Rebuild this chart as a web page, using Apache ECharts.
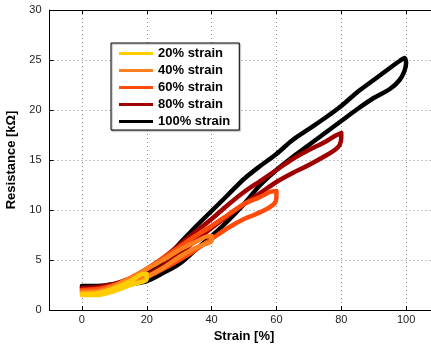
<!DOCTYPE html>
<html>
<head>
<meta charset="utf-8">
<script src="https://cdn.jsdelivr.net/npm/echarts@6/dist/echarts.min.js"></script>
<style>html,body{margin:0;padding:0;background:#fff}#c{width:431px;height:344px}</style>
</head>
<body>
<div id="c"></div>
<script>
// Data: [strain %, resistance kΩ] around each hysteresis loop
const seriesNames = ['20% strain', '40% strain', '60% strain', '80% strain', '100% strain'];
const seriesColors = ['#FFCC00', '#FF8020', '#FF4A0A', '#A00000', '#000000'];

const loop20 = [[0,1.6],[5,1.7],[10,2.2],[15,2.9],[19,3.6],[20,3.6],[20,3.1],[15,2.5],[10,1.9],[5,1.5],[0,1.5]];
const loop40 = [[0,1.8],[5,1.9],[10,2.4],[15,3.2],[20,4.1],[25,5.0],[30,6.0],[35,6.8],[38,7.3],[40,7.4],[40,6.9],[38,6.6],[35,6.2],[30,5.3],[25,4.2],[20,3.3],[15,2.6],[10,2.1],[5,1.8],[0,1.7]];
const loop60 = [[0,2.0],[5,2.1],[10,2.5],[15,3.2],[20,4.1],[25,5.2],[30,6.3],[35,7.4],[40,8.4],[45,9.5],[50,10.6],[55,11.3],[58,11.8],[60,11.9],[60,11.3],[59.5,10.7],[57,10.1],[53,9.5],[50,9.1],[45,8.2],[40,7.1],[35,6.0],[30,5.0],[25,4.1],[20,3.3],[15,2.7],[10,2.2],[5,1.9],[0,1.9]];
const loop80 = [[0,2.2],[5,2.3],[10,2.6],[15,3.2],[20,4.1],[25,5.2],[30,6.5],[35,7.8],[40,9.1],[45,10.5],[50,11.8],[55,12.9],[60,14.0],[65,15.1],[70,16.0],[75,16.8],[78,17.4],[80,17.7],[80,17.2],[79.5,16.5],[78,16.0],[75,15.4],[70,14.5],[65,13.7],[60,12.8],[55,11.7],[50,10.6],[45,9.4],[40,8.2],[35,6.9],[30,5.6],[25,4.4],[20,3.5],[15,2.8],[10,2.4],[5,2.1],[0,2.1]];
const loop100 = [[0,2.4],[5,2.4],[10,2.6],[15,3.0],[20,3.7],[25,4.9],[30,6.6],[35,8.3],[40,9.9],[45,11.5],[50,13.1],[55,14.4],[60,15.6],[65,17.0],[70,18.1],[75,19.2],[80,20.4],[85,21.8],[90,23.0],[95,24.2],[98,24.9],[99.5,25.2],[100,24.7],[99.5,23.9],[98,23.0],[95,22.1],[90,21.2],[85,20.1],[80,18.9],[75,17.7],[70,16.5],[65,15.3],[60,14.0],[55,12.5],[50,10.6],[45,8.9],[40,7.4],[35,6.0],[30,4.6],[25,3.7],[20,2.9],[15,2.6],[10,2.4],[5,2.3],[0,2.3]];

const loops = [loop20, loop40, loop60, loop80, loop100];
const yTickStep = 5;

const chart = echarts.init(document.getElementById('c'), null, {renderer: 'canvas'});
const font = 'Liberation Sans, Arial, sans-serif';

// draw 100% first so smaller loops lie on top
const series = [];
for (let i = loops.length - 1; i >= 0; i--) {
  series.push({
    name: seriesNames[i],
    type: 'line',
    data: loops[i],
    showSymbol: false,
    smooth: 0.3,
    lineStyle: {color: seriesColors[i], width: 4.5, join: 'round', cap: 'round'},
    itemStyle: {color: seriesColors[i]},
    emphasis: {disabled: true},
    animation: false
  });
}

const option = {
  animation: false,
  grid: {left: 49.5, right: -7.5, top: 10, bottom: 34, containLabel: false, outerBoundsMode: 'none'},
  legend: {
    data: seriesNames,
    orient: 'vertical',
    left: 111,
    top: 43,
    icon: 'rect',
    itemWidth: 34,
    itemHeight: 3,
    itemGap: 4,
    padding: [4, 9, 2, 8],
    backgroundColor: '#fff',
    borderColor: '#000',
    borderWidth: 1,
    shadowColor: 'rgba(0,0,0,0.35)',
    shadowOffsetX: 1,
    shadowOffsetY: 1,
    shadowBlur: 1,
    textStyle: {fontFamily: font, fontWeight: 'bold', fontSize: 13, color: '#000', padding: [0,0,0,0]},
    selectedMode: false
  },
  xAxis: [{
    type: 'value', min: -10, max: 110, splitNumber: 6, position: 'bottom',
    name: 'Strain [%]', nameLocation: 'middle', nameGap: 17,
    nameTextStyle: {fontFamily: font, fontWeight: 'bold', fontSize: 13, color: '#000'},
    axisLine: {show: true, onZero: false, lineStyle: {color: '#000', width: 1}},
    axisTick: {show: true, inside: true, length: 4, lineStyle: {color: '#000'}},
    axisLabel: {fontFamily: font, fontSize: 11, color: '#222', margin: 4, showMinLabel: false, showMaxLabel: false},
    splitLine: {show: true, lineStyle: {color: '#8a8a8a', type: [1, 3], width: 1}}
  }, {
    type: 'value', min: -10, max: 110, splitNumber: 6, position: 'top',
    axisLine: {show: true, onZero: false, lineStyle: {color: '#000', width: 1}},
    axisTick: {show: true, inside: true, length: 4, lineStyle: {color: '#000'}},
    axisLabel: {show: false},
    splitLine: {show: false}
  }],
  yAxis: {
    type: 'value', min: 0, max: 30, interval: yTickStep, position: 'left',
    name: 'Resistance [kΩ]', nameLocation: 'middle', nameGap: 29,
    nameTextStyle: {fontFamily: font, fontWeight: 'bold', fontSize: 13, color: '#000'},
    axisLine: {show: true, onZero: false, lineStyle: {color: '#000', width: 1}},
    axisTick: {show: true, inside: true, length: 4, lineStyle: {color: '#000'}},
    axisLabel: {fontFamily: font, fontSize: 11, color: '#222', margin: 8},
    splitLine: {show: true, lineStyle: {color: '#8a8a8a', type: [1, 3], width: 1}}
  },
  series: series
};
chart.setOption(option);
</script>
</body>
</html>
